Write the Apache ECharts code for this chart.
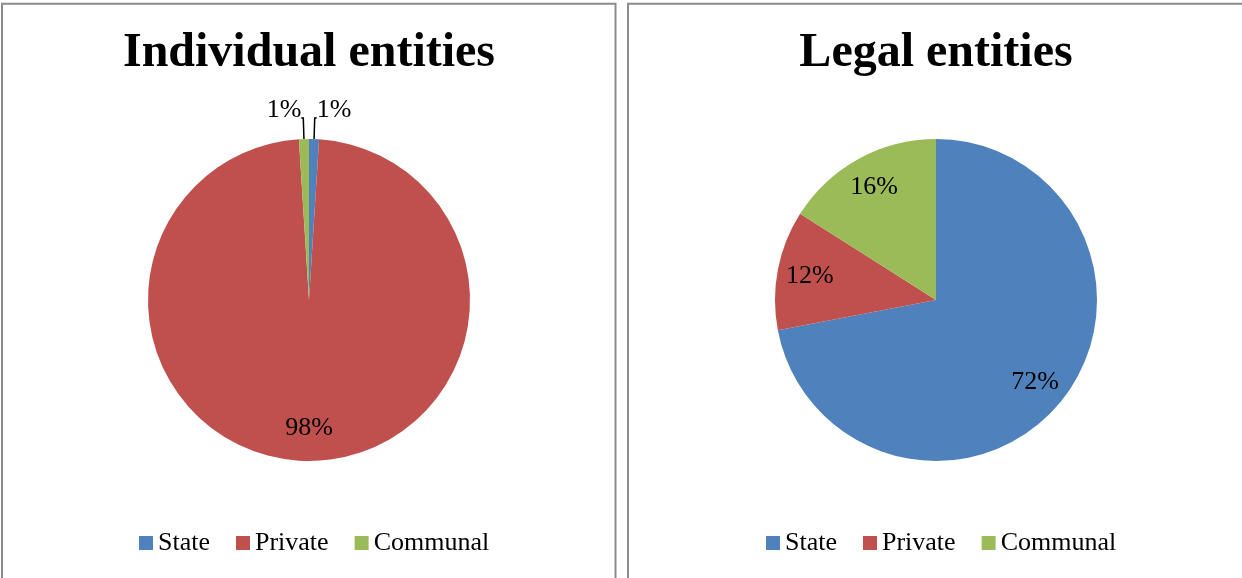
<!DOCTYPE html>
<html>
<head>
<meta charset="utf-8">
<title>Individual and legal entities by ownership</title>
<script src="https://cdn.jsdelivr.net/npm/echarts@6/dist/echarts.min.js"></script>
<style>
  html, body { margin: 0; padding: 0; background: #ffffff; }
  #chart { width: 1242px; height: 578px; }
</style>
</head>
<body>
<div id="chart"></div>
<script>
// Ownership categories shared by both pies
const categories = ['State', 'Private', 'Communal'];
// Share of each ownership form, percent
const individualValues = [1, 98, 1];
const legalValues = [72, 12, 16];
const titles = ['Individual entities', 'Legal entities'];
const colors = ['#4F81BD', '#C0504D', '#9BBB59'];

const serif = '"Liberation Serif", "Times New Roman", serif';
const pieRadius = 161;
const centers = [[309, 300], [936, 300]];

function buildData(values) {
  return categories.map((name, i) => ({ name: name, value: values[i] }));
}

// Visible pie: slices plus outside labels for tiny slices
function slicesSeries(values, center, outsideIdx) {
  return {
    type: 'pie',
    center: center,
    radius: [0, pieRadius],
    startAngle: 90,
    clockwise: true,
    avoidLabelOverlap: false,
    percentPrecision: 0,
    animation: false,
    emphasis: { disabled: true },
    itemStyle: { borderWidth: 0 },
    label: {
      show: false,
      position: 'outside',
      formatter: '{d}%',
      color: '#000',
      fontFamily: serif,
      fontSize: 26,
      distanceToLabelLine: 0
    },
    labelLine: {
      show: false,
      length: 21,
      length2: 2,
      lineStyle: { color: '#000', width: 1.5 }
    },
    // lift the small outside labels above their leader lines
    labelLayout: function () { return { dy: -8 }; },
    data: buildData(values).map((d, i) => outsideIdx.indexOf(i) >= 0
      ? Object.assign(d, { label: { show: true }, labelLine: { show: true } })
      : d)
  };
}

// Transparent ring carrying the in-slice labels further out from the centre
function labelSeries(values, center, insideIdx) {
  return {
    type: 'pie',
    center: center,
    radius: [90, pieRadius],
    startAngle: 90,
    clockwise: true,
    silent: true,
    avoidLabelOverlap: false,
    percentPrecision: 0,
    animation: false,
    emphasis: { disabled: true },
    itemStyle: { color: 'rgba(0,0,0,0)', borderWidth: 0 },
    label: {
      show: false,
      position: 'inside',
      formatter: '{d}%',
      color: '#000',
      fontFamily: serif,
      fontSize: 26
    },
    labelLine: { show: false },
    data: buildData(values).map((d, i) => insideIdx.indexOf(i) >= 0
      ? Object.assign(d, { label: { show: true } })
      : d)
  };
}

function legend(left) {
  return {
    data: categories,
    left: left,
    top: 525,
    orient: 'horizontal',
    icon: 'rect',
    itemWidth: 14,
    itemHeight: 14,
    itemGap: 26,
    selectedMode: false,
    textStyle: { color: '#000', fontFamily: serif, fontSize: 26 }
  };
}

const chart = echarts.init(document.getElementById('chart'), null, { renderer: 'canvas' });
chart.setOption({
  backgroundColor: '#ffffff',
  color: colors,
  animation: false,
  title: titles.map((t, i) => ({
    text: t,
    left: centers[i][0] - 5,
    top: 25,
    textAlign: 'center',
    textStyle: { color: '#000', fontFamily: serif, fontSize: 48, fontWeight: 'bold' }
  })),
  legend: [legend(134), legend(761)],
  graphic: [
    { type: 'rect', z: 100, shape: { x: 2, y: 3.7, width: 613.5, height: 640 },
      style: { fill: 'none', stroke: '#8c8c8c', lineWidth: 2 } },
    { type: 'rect', z: 100, shape: { x: 628, y: 3.7, width: 700, height: 640 },
      style: { fill: 'none', stroke: '#8c8c8c', lineWidth: 2 } }
  ],
  series: [
    slicesSeries(individualValues, centers[0], [0, 2]),
    slicesSeries(legalValues, centers[1], []),
    labelSeries(individualValues, centers[0], [1]),
    labelSeries(legalValues, centers[1], [0, 1, 2])
  ]
});
</script>
</body>
</html>
